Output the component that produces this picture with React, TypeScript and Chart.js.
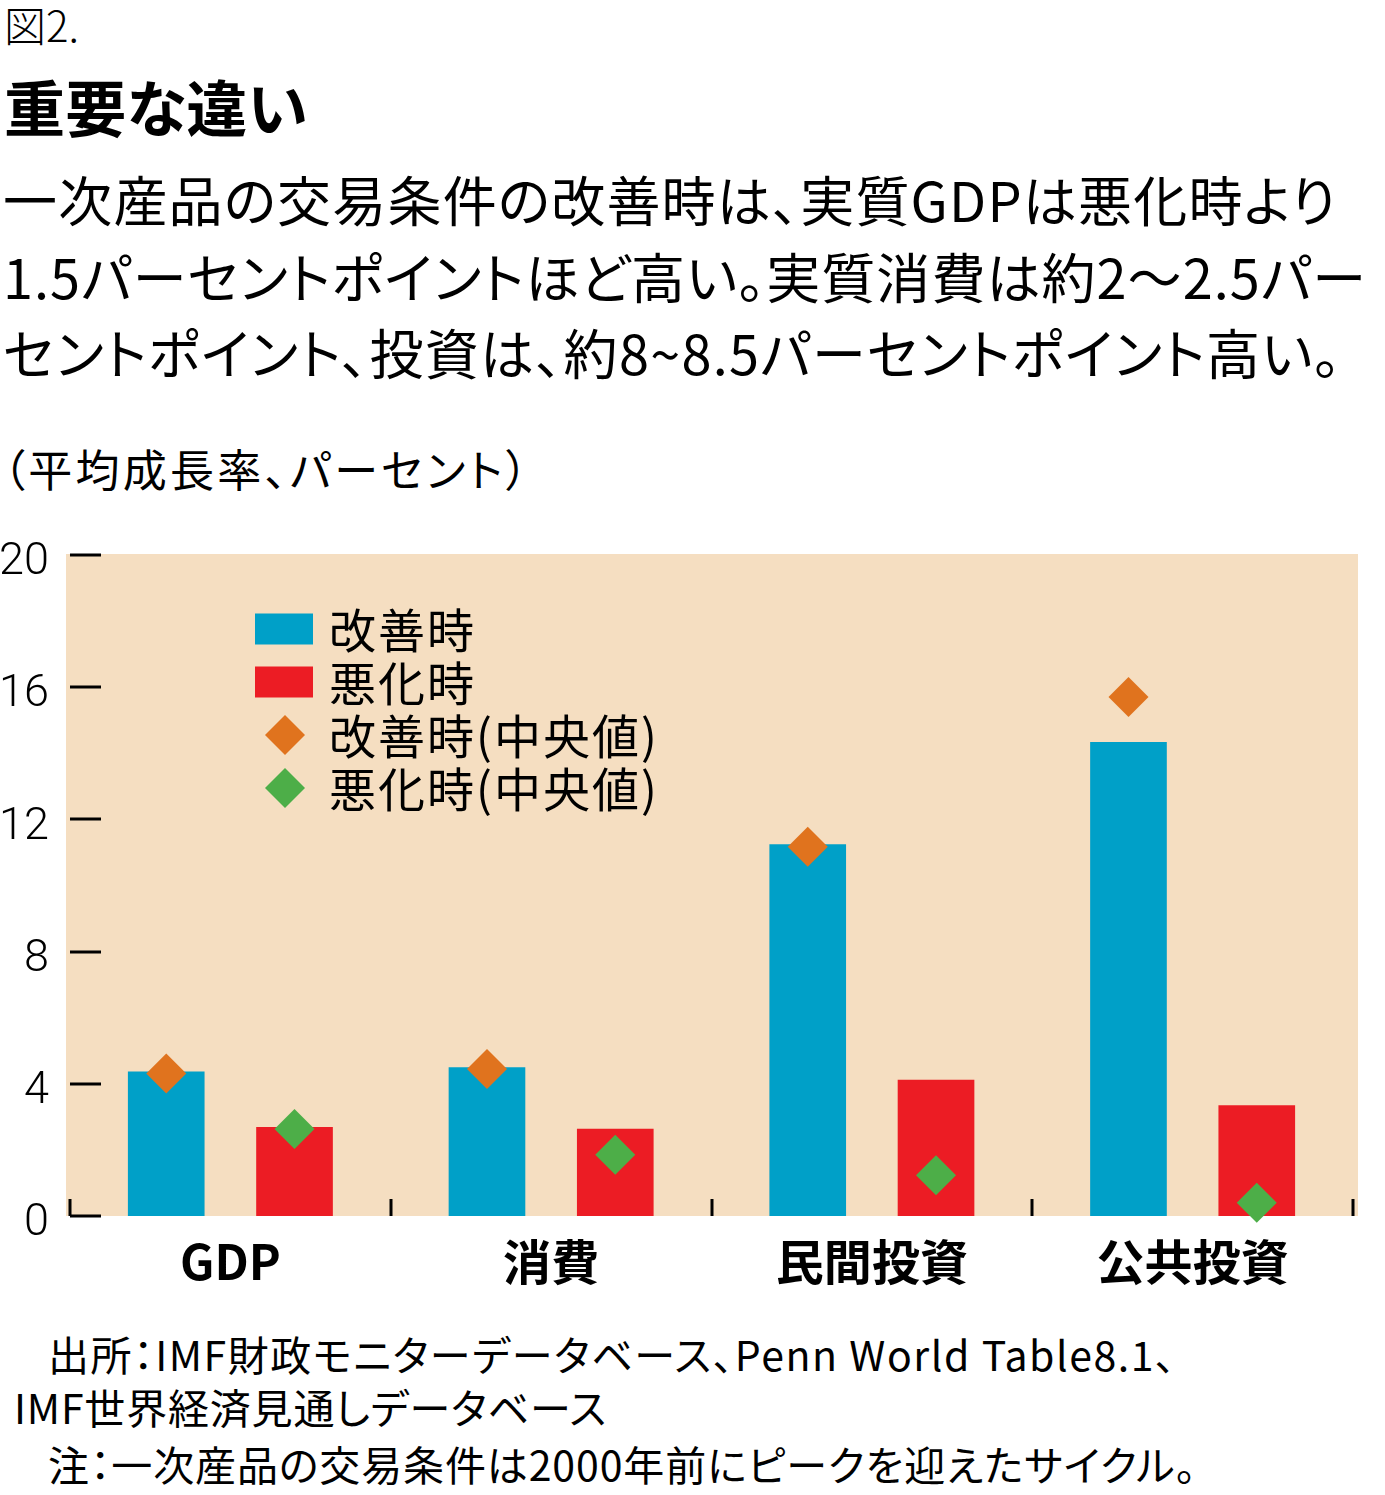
import React, { useEffect, useLayoutEffect, useRef } from 'react';
import { Chart, registerables } from 'chart.js';

Chart.register(...registerables);

// 平均成長率（パーセント）
const categories = ['GDP', '消費', '民間投資', '公共投資'];
const improvedAvg = [4.36, 4.49, 11.24, 14.33];
const worsenedAvg = [2.68, 2.63, 4.11, 3.34];
const improvedMedian = [4.31, 4.45, 11.17, 15.7];
const worsenedMedian = [2.63, 1.85, 1.23, 0.4];
const yTickValues = [0, 4, 8, 12, 16, 20];
const seriesLabels = ['改善時', '悪化時', '改善時(中央値)', '悪化時(中央値)'];

const FONT = "'Noto Sans CJK JP', 'Noto Sans', sans-serif";
const COLORS = {
  improved: '#00A0C8',
  worsened: '#EC1C24',
  improvedMedian: '#E0731E',
  worsenedMedian: '#4DAE48',
  panel: '#F5DEC1',
};

// each category is one unit wide on the x scale; the "improved" pair sits
// left of the category centre and the "worsened" pair to the right
const PAIR_OFFSET = 0.2;
const BAR_THICKNESS = 76;

const panelPlugin = {
  id: 'panel',
  beforeDraw(chart: any) {
    const { ctx, chartArea: a } = chart;
    ctx.save();
    ctx.fillStyle = COLORS.panel;
    ctx.fillRect(a.left - 4, a.top - 1, a.right - a.left + 9, a.bottom - a.top + 1);
    ctx.restore();
  },
  beforeDatasetsDraw(chart: any) {
    const { ctx, chartArea: a, scales } = chart;
    ctx.save();
    ctx.strokeStyle = '#000';
    ctx.lineWidth = 3;
    ctx.beginPath();
    // inward y ticks
    scales.y.ticks.forEach((t: any) => {
      const y = Math.round(scales.y.getPixelForValue(t.value));
      ctx.moveTo(a.left, y);
      ctx.lineTo(a.left + 31, y);
    });
    // category separators along the baseline
    for (let i = 0; i <= categories.length; i++) {
      const x = Math.round(scales.x.getPixelForValue(i - 0.5));
      ctx.moveTo(x, a.bottom - 17);
      ctx.lineTo(x, a.bottom);
    }
    ctx.stroke();
    ctx.restore();
  },
};

const legendPlugin = {
  id: 'insetLegend',
  afterDraw(chart: any) {
    const { ctx, chartArea: a } = chart;
    ctx.save();
    ctx.font = `400 47px ${FONT}`;
    ctx.textBaseline = 'middle';
    (ctx as any).letterSpacing = '2px';
    chart.data.datasets.forEach((ds: any, i: number) => {
      const cy = a.top + 74 + i * 53;
      ctx.fillStyle = ds.backgroundColor;
      if (ds.type === 'scatter') {
        const cx = a.left + 215;
        const r = 20;
        ctx.beginPath();
        ctx.moveTo(cx, cy - r);
        ctx.lineTo(cx + r, cy);
        ctx.lineTo(cx, cy + r);
        ctx.lineTo(cx - r, cy);
        ctx.closePath();
        ctx.fill();
      } else {
        ctx.fillRect(a.left + 185, cy - 15.5, 58, 31);
      }
      ctx.fillStyle = '#000';
      ctx.fillText(ds.label, a.left + 259, cy + 1);
    });
    ctx.restore();
  },
};

function GrowthChart() {
  const ref = useRef<HTMLCanvasElement | null>(null);

  useEffect(() => {
    if (!ref.current) return;
    const bar = {
      type: 'bar',
      grouped: false,
      barThickness: BAR_THICKNESS,
      order: 2,
    };
    const diamond = {
      type: 'scatter',
      pointStyle: 'rectRot',
      pointRadius: 20,
      pointHoverRadius: 20,
      borderWidth: 0,
      clip: false,
      order: 1,
    };
    const at = (values: number[], shift: number) =>
      values.map((v, i) => ({ x: i + shift, y: v }));

    const chart = new Chart(ref.current, {
      type: 'bar',
      data: {
        datasets: [
          {
            ...bar,
            label: seriesLabels[0],
            data: at(improvedAvg, -PAIR_OFFSET),
            backgroundColor: COLORS.improved,
          },
          {
            ...bar,
            label: seriesLabels[1],
            data: at(worsenedAvg, PAIR_OFFSET),
            backgroundColor: COLORS.worsened,
          },
          {
            ...diamond,
            label: seriesLabels[2],
            data: at(improvedMedian, -PAIR_OFFSET),
            backgroundColor: COLORS.improvedMedian,
          },
          {
            ...diamond,
            label: seriesLabels[3],
            data: at(worsenedMedian, PAIR_OFFSET),
            backgroundColor: COLORS.worsenedMedian,
          },
        ] as any,
      },
      options: {
        animation: false,
        responsive: false,
        events: [],
        layout: { padding: { left: 0, right: 32, top: 22, bottom: 0 } },
        plugins: {
          legend: { display: false },
          tooltip: { enabled: false },
        },
        scales: {
          x: {
            type: 'linear',
            offset: false,
            min: -0.5,
            max: categories.length - 0.5,
            afterBuildTicks: (s: any) => {
              s.ticks = categories.map((_, i) => ({ value: i }));
            },
            grid: { display: false, drawTicks: false },
            border: { display: false },
            ticks: {
              autoSkip: false,
              maxRotation: 0,
              color: '#000',
              padding: 17,
              font: { family: FONT, size: 48, weight: 'bold' },
              callback: (v: any) => categories[Math.round(Number(v))] ?? '',
            },
            afterFit: (s: any) => {
              s.height = 90;
            },
          },
          y: {
            min: 0,
            max: 20,
            afterBuildTicks: (s: any) => {
              s.ticks = yTickValues.map((v) => ({ value: v }));
            },
            grid: { display: false, drawTicks: false },
            border: { display: false },
            ticks: {
              color: '#000',
              padding: 21,
              labelOffset: 8,
              font: { family: 'Roboto', size: 45, weight: '300' },
            },
            afterFit: (s: any) => {
              s.width = 70;
            },
          },
        } as any,
      },
      plugins: [panelPlugin, legendPlugin],
    });
    return () => chart.destroy();
  }, []);

  return (
    <canvas
      ref={ref}
      width={1385}
      height={799}
      style={{ position: 'absolute', left: 0, top: 507, width: 1385, height: 799 }}
    />
  );
}

// one line of text, spaced out so that it spans the given width
function Line(props: {
  top: number;
  left: number;
  size: number;
  width?: number;
  weight?: number;
  children: string;
}) {
  const ref = useRef<HTMLDivElement | null>(null);
  useLayoutEffect(() => {
    const el = ref.current;
    if (!el || !props.width) return;
    const fit = () => {
      el.style.letterSpacing = '0px';
      const natural = el.getBoundingClientRect().width;
      const n = Array.from(props.children).length;
      el.style.letterSpacing = `${(props.width! - natural) / n}px`;
    };
    fit();
    (document as any).fonts?.ready.then(fit);
  }, [props.width, props.children]);
  return (
    <div
      ref={ref}
      style={{
        position: 'absolute',
        top: props.top,
        left: props.left,
        fontFamily: FONT,
        fontSize: props.size,
        fontWeight: props.weight ?? 400,
        fontFeatureSettings: "'palt'",
        lineHeight: 1,
        whiteSpace: 'nowrap',
        color: '#000',
      }}
    >
      {props.children}
    </div>
  );
}

export default function App() {
  return (
    <div
      style={{
        position: 'absolute',
        left: 0,
        top: 0,
        width: 1385,
        height: 1495,
        background: '#fff',
        overflow: 'hidden',
      }}
    >
      <Line top={3} left={4} size={42} weight={300}>図2.</Line>
      <Line top={75} left={4} size={61} weight={700} width={304}>重要な違い</Line>
      <Line top={172} left={3} size={54} width={1334}>一次産品の交易条件の改善時は、実質GDPは悪化時より</Line>
      <Line top={249} left={3} size={54} width={1364}>1.5パーセントポイントほど高い。実質消費は約2〜2.5パー</Line>
      <Line top={325} left={3} size={54} width={1339}>セントポイント、投資は、約8~8.5パーセントポイント高い。</Line>
      <Line top={446} left={3} size={44} width={528}>（平均成長率、パーセント）</Line>
      <GrowthChart />
      <Line top={1333} left={48} size={41} width={1129}>出所：IMF財政モニターデータベース、Penn World Table8.1、</Line>
      <Line top={1386} left={14} size={41} width={593}>IMF世界経済見通しデータベース</Line>
      <Line top={1443} left={48} size={41} width={1149}>注：一次産品の交易条件は2000年前にピークを迎えたサイクル。</Line>
    </div>
  );
}
